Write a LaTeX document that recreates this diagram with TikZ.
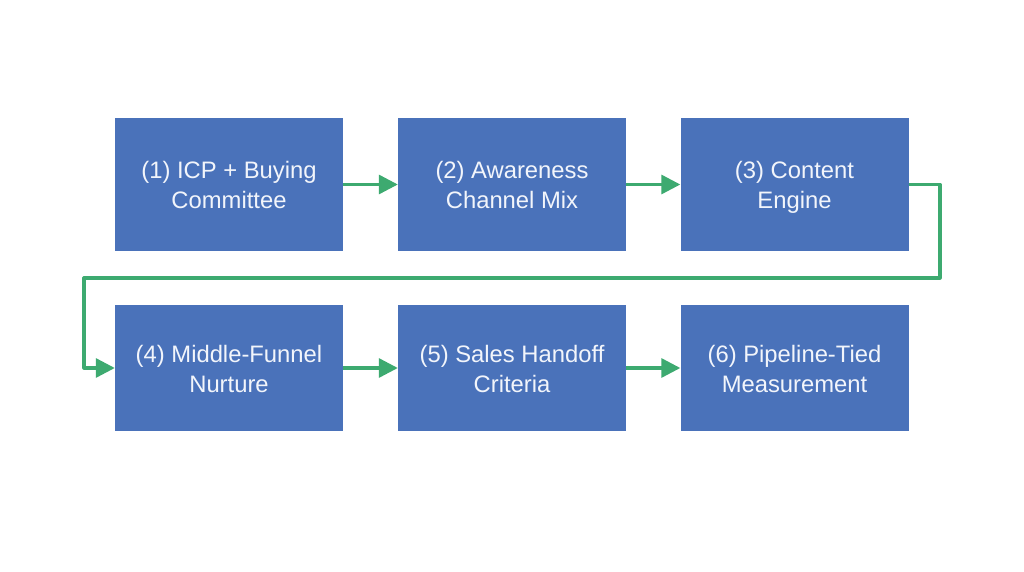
\documentclass[tikz,border=0pt]{standalone}
\usepackage{fontspec}
\setmainfont{Liberation Sans}
\usetikzlibrary{arrows.meta}
\definecolor{boxblue}{HTML}{4A72BA}
\definecolor{flowgreen}{HTML}{3DAA70}
\definecolor{boxtext}{HTML}{F2F5FB}
\newcommand{\twolines}[2]{\rule{0pt}{27pt}#1\\#2\strut}
\begin{document}
\begin{tikzpicture}[x=1pt,y=-1pt,
  stepbox/.style={fill=boxblue,draw=none,text=boxtext,align=center,font=\fontsize{23.8}{30}\selectfont},
  flow/.style={draw=flowgreen,line width=3.2pt,-{Triangle[length=19pt,width=19pt]},line join=round}]
\useasboundingbox (0,0) rectangle (1024,572);
\fill[white] (0,0) rectangle (1024,572);
\node[stepbox,minimum width=228pt,minimum height=133pt] (b1) at (229,184.5) {\twolines{(1) ICP + Buying}{Committee}};
\node[stepbox,minimum width=228pt,minimum height=133pt] (b2) at (512,184.5) {\twolines{(2) Awareness}{Channel Mix}};
\node[stepbox,minimum width=228pt,minimum height=133pt] (b3) at (794.5,184.5) {\twolines{(3) Content}{Engine}};
\node[stepbox,minimum width=228pt,minimum height=126pt] (b4) at (229,368) {\twolines{(4) Middle-Funnel}{Nurture}};
\node[stepbox,minimum width=228pt,minimum height=126pt] (b5) at (512,368) {\twolines{(5) Sales Handoff}{Criteria}};
\node[stepbox,minimum width=228pt,minimum height=126pt] (b6) at (794.5,368) {\twolines{(6) Pipeline-Tied}{Measurement}};
\draw[flow] (b1.east) -- (b2.west);
\draw[flow] (b2.east) -- (b3.west);
\draw[flow] (b4.east) -- (b5.west);
\draw[flow] (b5.east) -- (b6.west);
\coordinate (c1) at (940,184.5);
\coordinate (c2) at (940,278);
\coordinate (c3) at (84,278);
\coordinate (c4) at (84,368);
\draw[flow] (b3.east) -- (c1) -- (c2) -- (c3) -- (c4) -- (b4.west);
\end{tikzpicture}
\end{document}
